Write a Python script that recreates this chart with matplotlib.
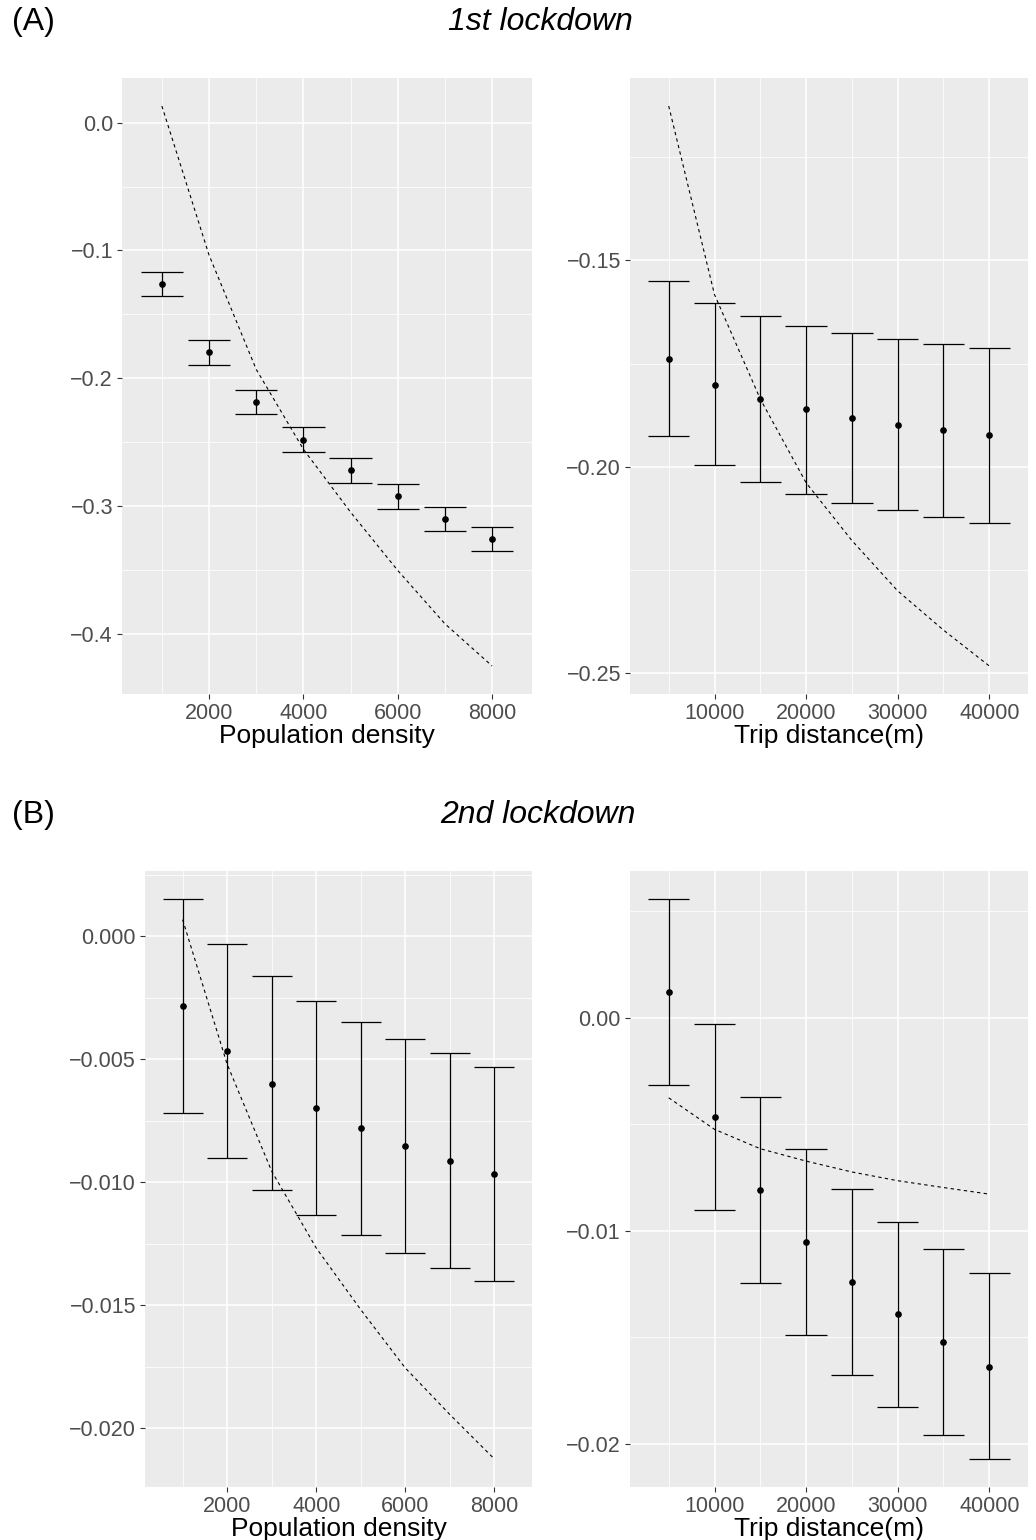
import matplotlib
matplotlib.use("Agg")
import matplotlib.pyplot as plt
import numpy as np

# datos
densidad = [1000, 2000, 3000, 4000, 5000, 6000, 7000, 8000]
distancia = [5000, 10000, 15000, 20000, 25000, 30000, 35000, 40000]

# (A) 1er confinamiento - densidad
a_dens_est = [-0.1260, -0.1797, -0.2182, -0.2479, -0.2719, -0.2924, -0.3099, -0.3258]
a_dens_lo = [-0.1357, -0.1893, -0.2279, -0.2573, -0.2815, -0.3021, -0.3195, -0.3354]
a_dens_hi = [-0.1167, -0.1700, -0.2089, -0.2383, -0.2625, -0.2828, -0.3005, -0.3159]
a_dens_fit = [0.0130, -0.1036, -0.1930, -0.2555, -0.3047, -0.3503, -0.3920, -0.4250]

# (A) 1er confinamiento - distancia
a_dist_est = [-0.1738, -0.1801, -0.1835, -0.1861, -0.1881, -0.1898, -0.1912, -0.1924]
a_dist_lo = [-0.1925, -0.1995, -0.2036, -0.2066, -0.2088, -0.2106, -0.2122, -0.2136]
a_dist_hi = [-0.1550, -0.1603, -0.1636, -0.1659, -0.1676, -0.1691, -0.1703, -0.1713]
a_dist_fit = [-0.1126, -0.1583, -0.1836, -0.2039, -0.2179, -0.2301, -0.2396, -0.2483]

# (B) 2do confinamiento - densidad
b_dens_est = [-0.00282, -0.00467, -0.00599, -0.00699, -0.00781, -0.00853, -0.00913, -0.00966]
b_dens_lo = [-0.00717, -0.00901, -0.01033, -0.01133, -0.01216, -0.01286, -0.01347, -0.01400]
b_dens_hi = [0.00152, -0.00031, -0.00162, -0.00264, -0.00347, -0.00418, -0.00476, -0.00532]
b_dens_fit = [0.00068, -0.00520, -0.00955, -0.01267, -0.01518, -0.01755, -0.01944, -0.02125]

# (B) 2do confinamiento - distancia
b_dist_est = [0.00120, -0.00465, -0.00808, -0.01051, -0.01239, -0.01392, -0.01524, -0.01637]
b_dist_lo = [-0.00316, -0.00901, -0.01243, -0.01487, -0.01675, -0.01828, -0.01958, -0.02071]
b_dist_hi = [0.00557, -0.00029, -0.00372, -0.00615, -0.00805, -0.00958, -0.01086, -0.01199]
b_dist_fit = [-0.00376, -0.00524, -0.00615, -0.00673, -0.00724, -0.00765, -0.00797, -0.00828]

# ticks
dens_major = [2000, 4000, 6000, 8000]
dens_minor = [1000, 3000, 5000, 7000]
dist_major = [10000, 20000, 30000, 40000]
dist_minor = [5000, 15000, 25000, 35000]
a_dens_yt = [0.0, -0.1, -0.2, -0.3, -0.4]
a_dist_yt = [-0.15, -0.20, -0.25]
b_dens_yt = [0.0, -0.005, -0.010, -0.015, -0.020]
b_dist_yt = [0.00, -0.01, -0.02]

plt.rcParams['font.family'] = ['Liberation Sans', 'DejaVu Sans']
W, H = 1036, 1540
fig = plt.figure(figsize=(W / 100, H / 100), dpi=100)


def panel(px, x, est, lo, hi, fit, xmaj, xmin_, ymaj, ydec, xlabel):
    # px = (left, top, right, bottom) en pixeles
    l, t, r, b = px
    ax = fig.add_axes([l / W, 1 - b / H, (r - l) / W, (b - t) / H])
    ax.set_facecolor('#EBEBEB')
    for s in ax.spines.values():
        s.set_visible(False)

    paso = x[1] - x[0]
    ancho = 0.9 * paso
    x = np.array(x)

    ymin_ = [(ymaj[i] + ymaj[i + 1]) / 2 for i in range(len(ymaj) - 1)]
    paso_y = ymaj[0] - ymaj[1]
    ymin_ = [ymaj[0] + paso_y / 2] + ymin_ + [ymaj[-1] - paso_y / 2]

    ax.set_xticks(xmaj)
    ax.set_xticks(xmin_, minor=True)
    ax.set_yticks(ymaj)
    ax.set_yticks(ymin_, minor=True)
    ax.set_xticklabels([str(v) for v in xmaj])
    ax.set_yticklabels([f"{v:.{ydec}f}".replace('-', '\u2212') if v != 0 else f"{0:.{ydec}f}" for v in ymaj])
    ax.grid(which='major', color='white', lw=1.1)
    ax.grid(which='minor', color='white', lw=0.55)
    ax.set_axisbelow(True)
    ax.tick_params(which='major', length=3.5, width=0.8, color='#333333',
                   labelsize=15.5, labelcolor='#4D4D4D', pad=3)
    ax.tick_params(which='minor', length=0)

    ax.vlines(x, lo, hi, color='black', lw=0.9)
    ax.hlines(lo, x - ancho / 2, x + ancho / 2, color='black', lw=0.9)
    ax.hlines(hi, x - ancho / 2, x + ancho / 2, color='black', lw=0.9)
    ax.plot(x, est, 'o', color='black', ms=3.8)
    ax.plot(x, fit, color='black', lw=0.8, linestyle=(0, (3, 3)))

    # expansion tipo ggplot (5%), despues de los ticks para que no la cambien
    x0, x1 = x.min() - ancho / 2, x.max() + ancho / 2
    y0 = min(min(lo), min(fit))
    y1 = max(max(hi), max(fit))
    dx, dy = (x1 - x0) * 0.05, (y1 - y0) * 0.05
    ax.set_xlim(x0 - dx, x1 + dx)
    ax.set_ylim(y0 - dy, y1 + dy)

    ax.set_xlabel(xlabel, fontsize=19, labelpad=0)
    return ax


panel((122, 78, 532, 694), densidad, a_dens_est, a_dens_lo, a_dens_hi, a_dens_fit,
      dens_major, dens_minor, a_dens_yt, 1, 'Population density')
panel((630, 78, 1028, 694), distancia, a_dist_est, a_dist_lo, a_dist_hi, a_dist_fit,
      dist_major, dist_minor, a_dist_yt, 2, 'Trip distance(m)')
panel((145, 871, 532, 1487), densidad, b_dens_est, b_dens_lo, b_dens_hi, b_dens_fit,
      dens_major, dens_minor, b_dens_yt, 3, 'Population density')
panel((630, 871, 1028, 1487), distancia, b_dist_est, b_dist_lo, b_dist_hi, b_dist_fit,
      dist_major, dist_minor, b_dist_yt, 2, 'Trip distance(m)')

# titulos
fig.text(12 / W, 1 - 22 / H, '(A)', fontsize=23, va='center', ha='left')
fig.text(540 / W, 1 - 22 / H, '1st lockdown', fontsize=23, va='center', ha='center', style='italic')
fig.text(12 / W, 1 - 815 / H, '(B)', fontsize=23, va='center', ha='left')
fig.text(538 / W, 1 - 815 / H, '2nd lockdown', fontsize=23, va='center', ha='center', style='italic')

fig.savefig('out.png', dpi=100)
